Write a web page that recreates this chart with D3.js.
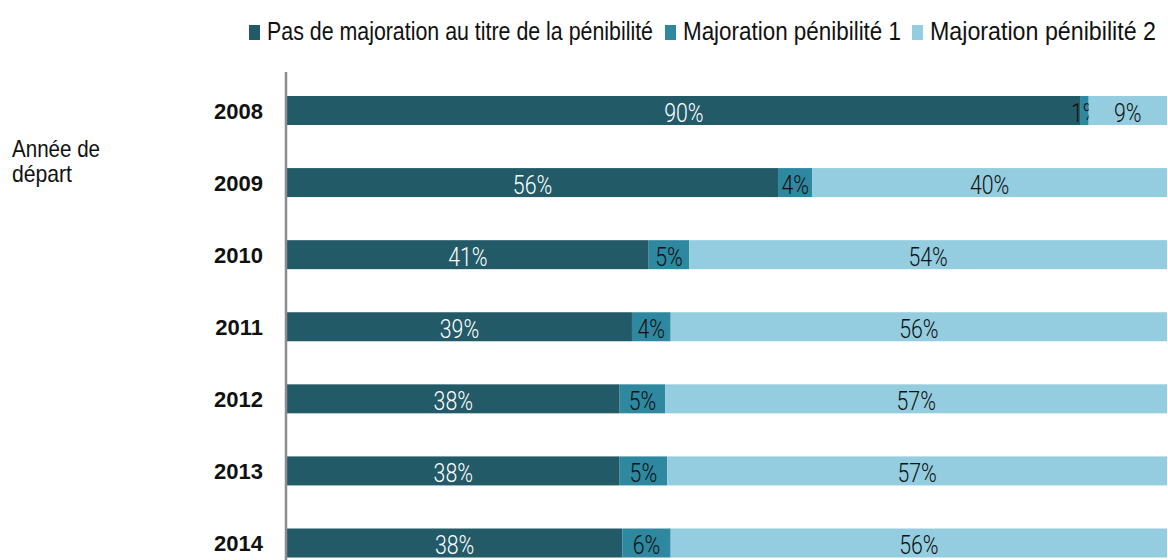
<!DOCTYPE html>
<html>
<head>
<meta charset="utf-8">
<script src="https://cdn.jsdelivr.net/npm/d3@7"></script>
<style>
  body { margin: 0; background: #fff; }
  svg { display: block; font-family: "Liberation Sans", Arial, sans-serif; }
</style>
</head>
<body>
<svg width="1168" height="560"></svg>
<script>
const years = ["2008", "2009", "2010", "2011", "2012", "2013", "2014"]
const seriesNames = ["Pas de majoration au titre de la pénibilité", "Majoration pénibilité 1", "Majoration pénibilité 2"]
const none = [90.2, 55.8, 41.1, 39.2, 37.8, 37.8, 38.1]
const maj1 = [0.9, 3.9, 4.6, 4.4, 5.2, 5.4, 5.5]
const maj2 = [8.9, 40.3, 54.3, 56.4, 57.0, 56.8, 56.4]
const colors = ["#235a68", "#2e88a0", "#93cddf"]
const labelColors = ["#fff", "#111", "#111"]

const svg = d3.select("svg")

const x = d3.scaleLinear().domain([0, 100]).range([287, 1167])
const y = d3.scalePoint().domain(years).range([110.5, 543])
const barH = 29

const rows = years.map((yr, i) => ({ year: yr, vals: [none[i], maj1[i], maj2[i]] }))
const stack = d3.stack().keys([0, 1, 2]).value((d, k) => d.vals[k])
const layers = stack(rows)

layers.forEach((layer, k) => {
    const g = svg.append("g")
    g.selectAll("rect").data(layer).enter().append("rect")
        .attr("x", d => x(d[0]))
        .attr("y", d => y(d.data.year) - barH / 2)
        .attr("width", d => x(d[1]) - x(d[0]))
        .attr("height", barH)
        .attr("fill", colors[k])
    // condensed look: squeeze the text horizontally
    g.selectAll("text").data(layer).enter().append("text")
        .attr("transform", d => `translate(${(x(d[0]) + x(d[1])) / 2},${y(d.data.year) + 11}) scale(0.82,1)`)
        .attr("text-anchor", "middle")
        .attr("font-family", "Roboto, 'Liberation Sans', sans-serif")
        .attr("font-weight", 300)
        .attr("font-size", 26)
        .attr("fill", labelColors[k])
        .text(d => Math.round(d[1] - d[0]) + "%")
})

// axis
svg.append("line")
    .attr("x1", 286).attr("x2", 286)
    .attr("y1", 72).attr("y2", 560)
    .attr("stroke", "#8c8c8c").attr("stroke-width", 2.5)

const yAxis = d3.axisLeft(y).tickSize(0).tickPadding(0)
const ag = svg.append("g").attr("transform", "translate(263,0)").call(yAxis)
ag.select(".domain").remove()
ag.selectAll("text")
    .attr("font-size", 22).attr("font-weight", "bold").attr("fill", "#111")
    .attr("font-family", "'Liberation Sans', Arial, sans-serif")
    .attr("dy", "0.36em")

svg.append("text").attr("x", 12).attr("y", 157).attr("font-size", 24).attr("fill", "#111")
    .attr("textLength", 88).attr("lengthAdjust", "spacingAndGlyphs").text("Année de")
svg.append("text").attr("x", 12).attr("y", 182).attr("font-size", 24).attr("fill", "#111")
    .attr("textLength", 60).attr("lengthAdjust", "spacingAndGlyphs").text("départ")

// legend
const legendX = [249, 665, 912]
const legendW = [386, 218, 226]
seriesNames.forEach((n, k) => {
    svg.append("rect").attr("x", legendX[k]).attr("y", 25).attr("width", 11).attr("height", 15).attr("fill", colors[k])
    svg.append("text").attr("x", legendX[k] + 18).attr("y", 40).attr("font-size", 22).attr("fill", "#111")
        .attr("transform", `translate(${legendX[k] + 18},40) scale(1,1.15) translate(${-(legendX[k] + 18)},-40)`)
        .attr("textLength", legendW[k]).attr("lengthAdjust", "spacingAndGlyphs").text(n)
})
</script>
</body>
</html>
